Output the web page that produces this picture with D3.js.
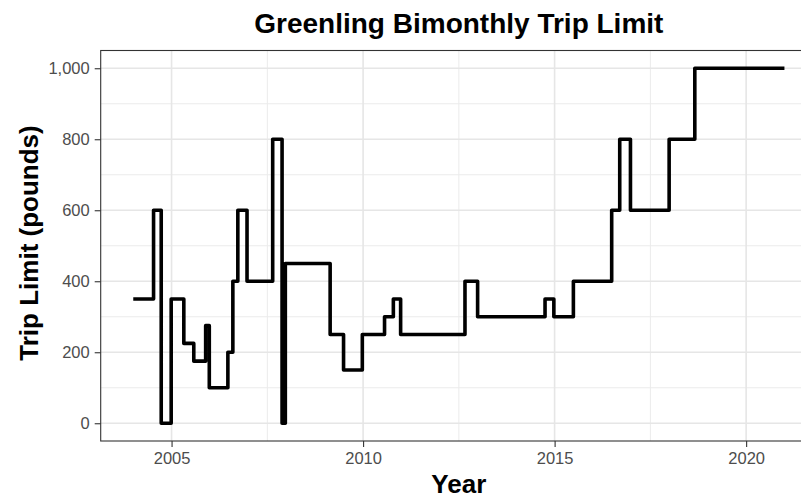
<!DOCTYPE html>
<html>
<head>
<meta charset="utf-8">
<script src="https://cdn.jsdelivr.net/npm/d3@7"></script>
<style>
  html, body { margin: 0; padding: 0; background: #fff; }
  svg { display: block; font-family: "Liberation Sans", Arial, sans-serif; }
</style>
</head>
<body>
<svg id="chart" width="801" height="498"></svg>
<script>
// ---- Data ----
const years  = [2004.0, 2004.53, 2004.73, 2004.99, 2005.32, 2005.58, 2005.89, 2005.985,
                2006.47, 2006.60, 2006.73, 2006.97, 2007.64, 2007.885, 2007.97, 2009.14,
                2009.49, 2009.98, 2010.56, 2010.79, 2010.98, 2012.66, 2012.99, 2014.75,
                2014.98, 2015.49, 2016.49, 2016.70, 2016.98, 2017.99, 2018.66, 2021.0];
const limits = [350, 600, 0, 350, 225, 175, 275, 100,
                200, 400, 600, 400, 800, 0, 450, 250,
                150, 250, 300, 350, 250, 400, 300, 350,
                300, 400, 600, 800, 600, 800, 1000, 1000];
const xTicks = [2005, 2010, 2015, 2020];
const xMinor = [2002.5, 2007.5, 2012.5, 2017.5];
const yTicks = [0, 200, 400, 600, 800, 1000];
const yMinor = [100, 300, 500, 700, 900];
const titleText = "Greenling Bimonthly Trip Limit";
const xTitle = "Year";
const yTitle = "Trip Limit (pounds)";

const data = years.map((y, i) => ({ year: y, value: limits[i] }));

// ---- Layout ----
const panel = { left: 100.7, right: 817, top: 50.5, bottom: 441 };
const xDomain = [2004, 2021];
const xPad = (xDomain[1] - xDomain[0]) * 0.05;
const x = d3.scaleLinear().domain([xDomain[0] - xPad, xDomain[1] + xPad]).range([panel.left, panel.right]);
const y = d3.scaleLinear().domain([-50, 1050]).range([panel.bottom, panel.top]);

const svg = d3.select("#chart");

// panel clip
svg.append("defs").append("clipPath").attr("id", "clip")
  .append("rect").attr("x", panel.left).attr("y", panel.top)
  .attr("width", panel.right - panel.left).attr("height", panel.bottom - panel.top);

const grid = svg.append("g").attr("clip-path", "url(#clip)");
// minor grid
grid.selectAll(".ymin").data(yMinor).enter().append("line")
  .attr("x1", panel.left).attr("x2", panel.right)
  .attr("y1", d => y(d)).attr("y2", d => y(d))
  .attr("stroke", "#EBEBEB").attr("stroke-width", 1);
grid.selectAll(".xmin").data(xMinor).enter().append("line")
  .attr("y1", panel.top).attr("y2", panel.bottom)
  .attr("x1", d => x(d)).attr("x2", d => x(d))
  .attr("stroke", "#EBEBEB").attr("stroke-width", 1);
// major grid
grid.selectAll(".ymaj").data(yTicks).enter().append("line")
  .attr("x1", panel.left).attr("x2", panel.right)
  .attr("y1", d => y(d)).attr("y2", d => y(d))
  .attr("stroke", "#E6E6E6").attr("stroke-width", 1.6);
grid.selectAll(".xmaj").data(xTicks).enter().append("line")
  .attr("y1", panel.top).attr("y2", panel.bottom)
  .attr("x1", d => x(d)).attr("x2", d => x(d))
  .attr("stroke", "#E6E6E6").attr("stroke-width", 1.6);

// step line
const line = d3.line().x(d => x(d.year)).y(d => y(d.value)).curve(d3.curveStepAfter);
svg.append("path").datum(data)
  .attr("d", line)
  .attr("fill", "none")
  .attr("stroke", "#000")
  .attr("stroke-width", 3.6)
  .attr("stroke-linejoin", "round")
  .attr("stroke-linecap", "butt");

// panel border
svg.append("rect")
  .attr("x", panel.left).attr("y", panel.top)
  .attr("width", panel.right - panel.left).attr("height", panel.bottom - panel.top)
  .attr("fill", "none").attr("stroke", "#333333").attr("stroke-width", 1.1);

// axes
const xAxis = d3.axisBottom(x).tickValues(xTicks).tickFormat(d3.format("d")).tickSize(6).tickPadding(5);
const gx = svg.append("g").attr("transform", `translate(0,${panel.bottom})`).call(xAxis);
const yAxis = d3.axisLeft(y).tickValues(yTicks).tickFormat(d3.format(",")).tickSize(6).tickPadding(5);
const gy = svg.append("g").attr("transform", `translate(${panel.left},0)`).call(yAxis);
[gx, gy].forEach(g => {
  g.select(".domain").remove();
  g.selectAll(".tick line").attr("stroke", "#333333").attr("stroke-width", 1.1);
  g.selectAll(".tick text").attr("fill", "#4D4D4D").style("font-size", "16.5px")
    .style("font-family", "'Liberation Sans', Arial, sans-serif");
});

// titles
const cx = (panel.left + panel.right) / 2;
svg.append("text").attr("x", cx).attr("y", 33).attr("text-anchor", "middle")
  .style("font-size", "28px").style("font-weight", "bold").attr("fill", "#000").text(titleText);
svg.append("text").attr("x", cx).attr("y", 493).attr("text-anchor", "middle")
  .style("font-size", "26px").style("font-weight", "bold").attr("fill", "#000").text(xTitle);
svg.append("text").attr("transform", `translate(37.5,243) rotate(-90)`).attr("text-anchor", "middle")
  .style("font-size", "26px").style("font-weight", "bold").attr("fill", "#000").text(yTitle);
</script>
</body>
</html>
